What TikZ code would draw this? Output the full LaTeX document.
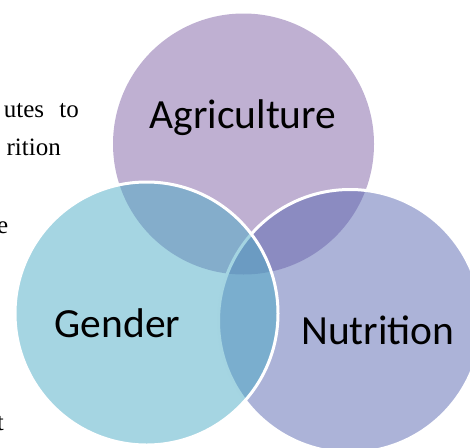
\documentclass[tikz,border=0pt]{standalone}
\usepackage{fontspec}
\setmainfont{Liberation Serif}
\newfontfamily\venntext{Carlito}
\newcommand\bodysize{\rmfamily\fontsize{25pt}{30pt}\selectfont}
\newcommand\vennsize{\venntext\fontsize{41.5pt}{45pt}\selectfont}
\definecolor{agricol}{RGB}{127,97,165}
\definecolor{nutricol}{RGB}{89,103,177}
\definecolor{gendercol}{RGB}{75,171,197}
\begin{document}
\begin{tikzpicture}[x=1pt, y=-1pt,
  venn/.style={circle, minimum size=263pt, inner sep=0pt, fill opacity=0.5, draw=white, line width=3pt},
  venntitle/.style={font=\vennsize, inner sep=0pt, anchor=base},
  bodytext/.style={font=\bodysize, inner sep=0pt, anchor=base east}]
\useasboundingbox (0,0) rectangle (470,447);
\clip (0,0) rectangle (470,447);
% 左侧正文
\node[bodytext] (line1) at (79,117) {utes\hspace{9pt} to};
\node[bodytext] (line2) at (61,155) {rition};
\node[bodytext] (line3) at (8.5,233) {e};
\node[bodytext] (line4) at (4,430) {t};
% 三个圆
\node[venn, fill=agricol, draw=none, minimum size=261pt] (agri) at (243.5,144) {};
\node[venn, fill=nutricol] (nutri) at (350,321) {};
\node[venn, fill=gendercol] (gender) at (146.5,313.5) {};
%Text
\node[venntitle] (agrilabel) at (243,128) {Agriculture};
\node[venntitle] (genderlabel) at (117.5,337) {Gender};
\node[venntitle] (nutrilabel) at (378,344) {Nutrition};
\end{tikzpicture}
\end{document}
